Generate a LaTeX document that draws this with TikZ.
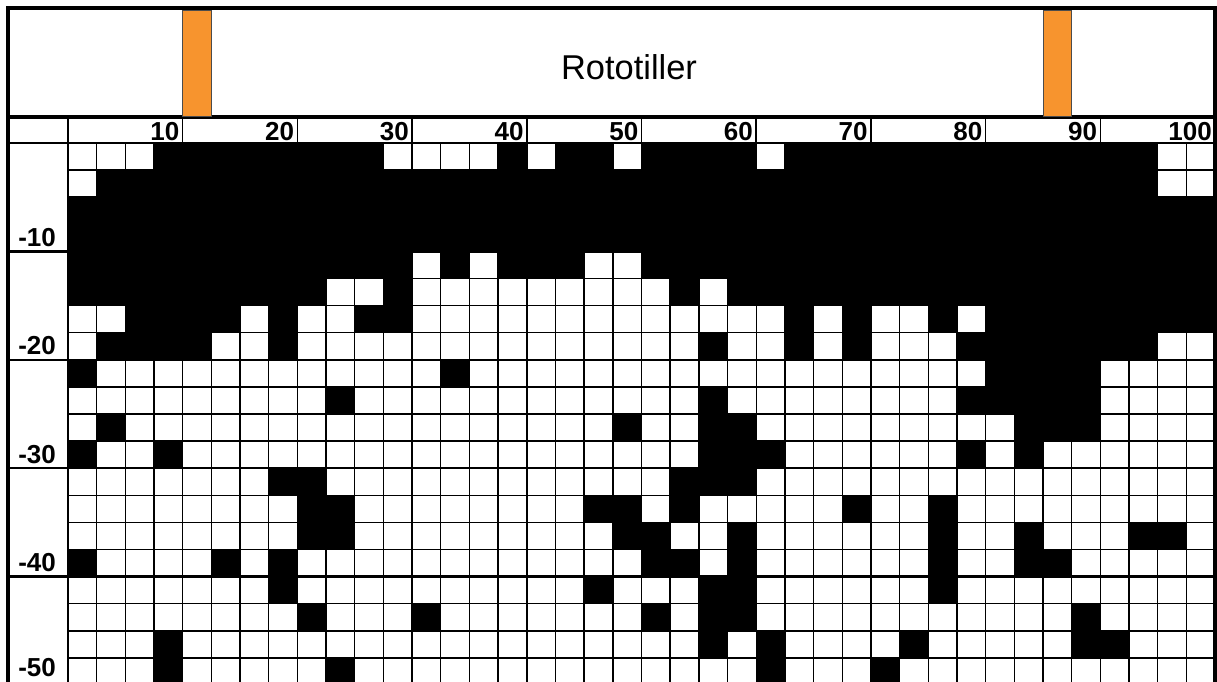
\documentclass[tikz,border=0pt]{standalone}
\usepackage{fontspec}
\setmainfont{Liberation Sans}
\usetikzlibrary{positioning}
\definecolor{bladeorange}{RGB}{247,148,46}
\newcommand{\cellw}{28.675}
\newcommand{\cellh}{27.1}
\tikzset{
  cellfill/.style={fill=black},
  gridline/.style={line width=1.0pt, color=black},
  majorline/.style={line width=1.8pt, color=black},
  frameline/.style={line width=2.2pt, color=black},
  tickline/.style={line width=1.1pt, color=black},
  blade/.style={fill=bladeorange, draw=black!70, line width=0.6pt},
  depthlbl/.style={font=\fontsize{18.5}{20}\selectfont\bfseries, inner sep=0pt},
  titlelbl/.style={font=\fontsize{24.5}{28}\selectfont, inner sep=0pt}
}

\begin{document}
\begin{tikzpicture}[x=0.025cm, y=-0.025cm]
  \useasboundingbox (0,0) rectangle (1217,682);
  \clip (0,0) rectangle (1217,682);
  \fill[white] (0,0) rectangle (1217,682);

  % ── Soil cells (black = untouched) ─────────────────────────────────
  \foreach \r/\cs in {
      0/{3,4,5,6,7,8,9,10,15,17,18,20,21,22,23,25,26,27,28,29,30,31,32,33,34,35,36,37},
      1/{1,...,37},
      2/{0,...,39},
      3/{0,...,39},
      4/{0,1,2,3,4,5,6,7,8,9,10,11,13,15,16,17,20,21,22,23,24,25,26,27,28,29,30,31,32,33,34,35,36,37,38,39},
      5/{0,1,2,3,4,5,6,7,8,11,21,23,24,25,26,27,28,29,30,31,32,33,34,35,36,37,38,39},
      6/{2,3,4,5,7,10,11,25,27,30,32,33,34,35,36,37,38,39},
      7/{1,2,3,4,7,22,25,27,31,32,33,34,35,36,37},
      8/{0,13,32,33,34,35},
      9/{9,22,31,32,33,34,35},
      10/{1,19,22,23,33,34,35},
      11/{0,3,22,23,24,31,33},
      12/{7,8,21,22,23},
      13/{8,9,18,19,21,27,30},
      14/{8,9,19,20,23,30,33,37,38},
      15/{0,5,7,20,21,23,30,33,34},
      16/{7,18,22,23,30},
      17/{8,12,20,22,23,35},
      18/{3,22,24,29,35,36},
      19/{3,9,24,28}}
    \foreach \c in \cs
      \fill[cellfill] (68+\c*\cellw, 143+\r*\cellh) rectangle ++(\cellw, \cellh);

  % ── Grid ───────────────────────────────────────────────────────────
  \foreach \c in {0,...,40}
    \draw[gridline] (68+\c*\cellw, 143) -- (68+\c*\cellw, 690);
  \foreach \r in {0,...,20}
    \draw[gridline] (68, 143+\r*\cellh) -- (1215, 143+\r*\cellh);
  \foreach \k in {1,...,4}
    \draw[majorline] (8, 143+4*\k*\cellh) -- (1215, 143+4*\k*\cellh);

  % ── Frame and header ───────────────────────────────────────────────
  \draw[frameline] (8,690) -- (8,8) -- (1215,8) -- (1215,690);
  \draw[frameline] (8,117) -- (1215,117);
  \draw[majorline] (8,143) -- (1215,143);
  \draw[majorline] (68,117) -- (68,690);
  \foreach \k in {1,...,10}
    \draw[tickline] (68+4*\k*\cellw, 117) -- (68+4*\k*\cellw, 143);

  % ── Tines ──────────────────────────────────────────────────────────
  \filldraw[blade] (68+4*\cellw, 10) rectangle (68+5*\cellw, 116);
  \filldraw[blade] (68+34*\cellw, 10) rectangle (68+35*\cellw, 116);

  \node[titlelbl, anchor=base] (title) at (629, 80) {Rototiller};

  % ── Labels ─────────────────────────────────────────────────────────
  \foreach \v [count=\k] in {10,20,...,100}
    \node[depthlbl, anchor=base east] (dist\k)
      at (68+4*\k*\cellw-3, 141) {\v};
  \foreach \v [count=\k] in {10,20,30,40}
    \node[depthlbl, anchor=base west] (depth\k)
      at (18, 143+4*\k*\cellh-5) {-\v};
  \node[depthlbl, anchor=base west] (depth5) at (18, 676) {-50};
\end{tikzpicture}
\end{document}
